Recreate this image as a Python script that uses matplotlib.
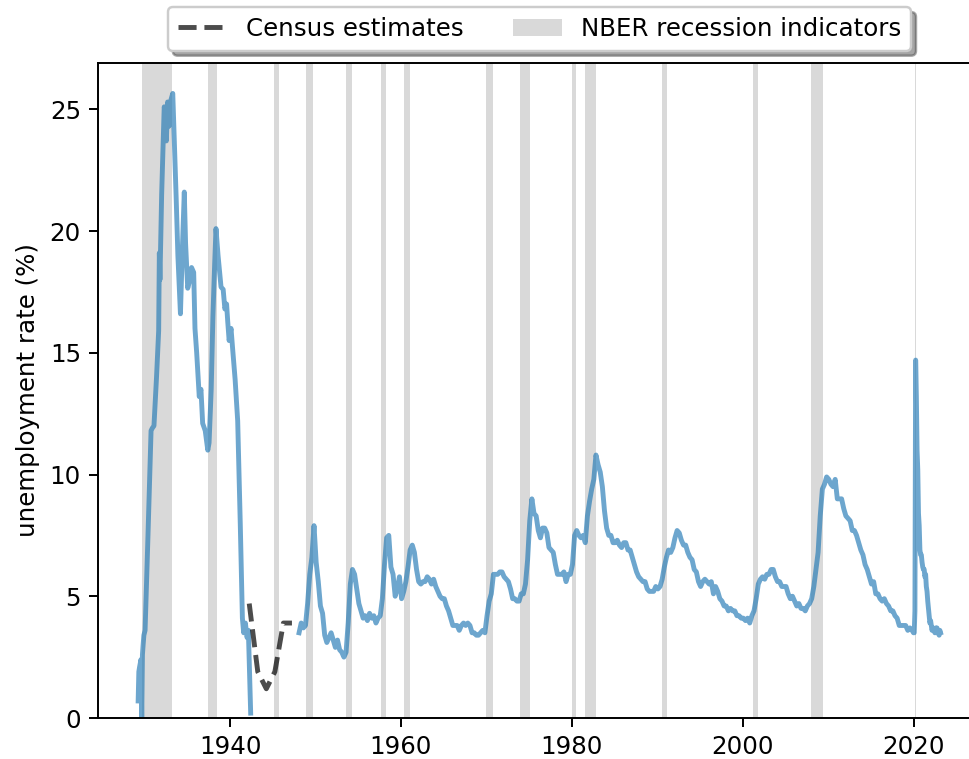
import numpy as np
import matplotlib
matplotlib.use("Agg")
import matplotlib.pyplot as plt

# monthly-ish readings, NBER series 1929-1942
prewar_t = [1929.25, 1929.33, 1929.42, 1929.58, 1929.67, 1929.75, 1929.83, 1929.92,
            1930.06, 1930.4, 1930.76, 1930.9, 1931.1, 1931.4, 1931.65, 1931.73,
            1931.8, 1932.0, 1932.3, 1932.45, 1932.55, 1932.7, 1932.85, 1933.0,
            1933.1, 1933.3, 1933.5, 1933.7, 1933.9, 1934.2, 1934.4, 1934.65,
            1934.8, 1935.05, 1935.3, 1935.5, 1935.75, 1935.9, 1936.1, 1936.4,
            1936.6, 1936.8, 1937.1, 1937.4, 1937.55, 1937.8, 1938.0, 1938.2,
            1938.36, 1938.6, 1938.95, 1939.2, 1939.4, 1939.6, 1939.73, 1939.9,
            1940.12, 1940.3, 1940.6, 1940.9, 1941.2, 1941.45, 1941.6, 1941.8,
            1942.0, 1942.15, 1942.42]
prewar_rate = [0.7, 1.9, 2.1, 2.4, 0.0, 2.6, 3.0, 3.4,
               3.6, 7.5, 11.8, 11.9, 12.0, 14.0, 15.9, 19.1,
               18.0, 21.5, 25.1, 24.9, 23.7, 25.3, 24.3, 25.0,
               25.4, 25.65, 23.5, 21.35, 19.0, 16.6, 19.0, 21.6,
               19.5, 17.65, 18.0, 18.5, 18.3, 16.0, 15.0, 13.2,
               13.5, 12.1, 11.8, 11.0, 11.3, 13.5, 16.5, 18.6,
               20.1, 19.0, 17.7, 17.6, 16.8, 17.0, 16.3, 15.5,
               16.0, 15.2, 13.9, 12.2, 8.0, 4.1, 3.5, 3.9,
               3.3, 3.6, 0.2]

# census annual estimates for the war years
census_years = [1942.25, 1943.25, 1944.25, 1945.25, 1946.25, 1947.25]
census_rate = [4.7, 1.9, 1.2, 1.9, 3.9, 3.9]

# quarterly unemployment rate 1948Q1 - 2019Q4
unrate_q = [
    3.5, 3.9, 3.7, 3.8,  4.7, 5.9, 6.6, 7.9,  6.4, 5.6, 4.6, 4.3,  3.4, 3.1, 3.3, 3.5,
    3.2, 2.9, 3.2, 2.8,  2.7, 2.5, 2.7, 3.9,  5.5, 6.1, 5.9, 5.3,  4.7, 4.4, 4.1, 4.2,
    4.0, 4.3, 4.1, 4.2,  3.9, 4.1, 4.2, 4.9,  6.3, 7.4, 7.5, 6.2,  5.9, 5.0, 5.3, 5.8,
    4.9, 5.2, 5.6, 6.2,  6.9, 7.1, 6.8, 6.1,  5.6, 5.5, 5.6, 5.6,  5.8, 5.7, 5.5, 5.7,
    5.4, 5.2, 5.0, 4.9,  4.9, 4.6, 4.4, 4.1,  3.8, 3.8, 3.8, 3.6,  3.8, 3.9, 3.8, 3.9,
    3.8, 3.5, 3.5, 3.4,  3.4, 3.5, 3.6, 3.5,  4.2, 4.8, 5.1, 5.9,  5.9, 5.9, 6.0, 6.0,
    5.8, 5.7, 5.6, 5.3,  4.9, 4.9, 4.8, 4.8,  5.1, 5.1, 5.5, 6.5,  8.1, 9.0, 8.4, 8.3,
    7.7, 7.4, 7.8, 7.8,  7.6, 7.0, 6.9, 6.8,  6.3, 5.9, 5.9, 5.9,  6.0, 5.6, 5.9, 5.9,
    6.3, 7.5, 7.7, 7.5,  7.4, 7.5, 7.2, 8.3,  8.9, 9.4, 9.8, 10.8, 10.4, 10.1, 9.5, 8.5,
    7.8, 7.5, 7.5, 7.2,  7.2, 7.3, 7.1, 7.0,  7.2, 7.2, 6.9, 6.9,  6.6, 6.3, 6.0, 5.8,
    5.7, 5.6, 5.6, 5.3,  5.2, 5.2, 5.2, 5.4,  5.3, 5.4, 5.7, 6.2,  6.6, 6.9, 6.8, 7.0,
    7.4, 7.7, 7.6, 7.3,  7.1, 7.1, 6.8, 6.6,  6.5, 6.1, 6.0, 5.6,  5.4, 5.6, 5.7, 5.6,
    5.5, 5.6, 5.1, 5.4,  5.2, 4.9, 4.8, 4.6,  4.6, 4.4, 4.5, 4.4,  4.4, 4.2, 4.2, 4.1,
    4.1, 4.0, 4.1, 3.9,  4.2, 4.4, 4.9, 5.5,  5.7, 5.8, 5.7, 5.9,  5.9, 6.1, 6.1, 5.8,
    5.6, 5.6, 5.4, 5.4,  5.4, 5.1, 4.9, 5.0,  4.8, 4.6, 4.7, 4.5,  4.5, 4.4, 4.6, 4.7,
    4.9, 5.4, 6.1, 6.8,  8.3, 9.4, 9.6, 9.9,  9.8, 9.6, 9.5, 9.8,  9.0, 9.0, 9.0, 8.6,
    8.3, 8.2, 8.1, 7.7,  7.7, 7.5, 7.2, 6.9,  6.7, 6.3, 6.1, 5.8,  5.5, 5.6, 5.1, 5.1,
    4.9, 4.8, 4.9, 4.7,  4.6, 4.4, 4.4, 4.2,  4.1, 3.8, 3.8, 3.8,  3.8, 3.6, 3.7, 3.6,
]

# monthly 2020-01 .. 2023-03
unrate_m = [3.5, 3.5, 4.4, 14.7, 13.2, 11.0, 10.2, 8.4, 7.9, 6.9, 6.7, 6.7,
            6.4, 6.2, 6.1, 6.1, 5.8, 5.9, 5.4, 5.2, 4.8, 4.5, 4.2, 3.9,
            4.0, 3.8, 3.6, 3.7, 3.6, 3.6, 3.5, 3.7, 3.5, 3.7, 3.6, 3.5,
            3.4, 3.6, 3.5]

# NBER recessions (peak, trough)
rec_start = [1929.67, 1937.42, 1945.17, 1948.92, 1953.58, 1957.67, 1960.33, 1970.0,
             1973.92, 1980.08, 1981.58, 1990.58, 2001.25, 2008.0, 2020.17]
rec_end = [1933.17, 1938.42, 1945.75, 1949.75, 1954.33, 1958.25, 1961.08, 1970.83,
           1975.17, 1980.5, 1982.83, 1991.17, 2001.83, 2009.42, 2020.33]

t_q = 1948 + np.arange(len(unrate_q)) * 0.25 + 1 / 12
t_m = 2020 + np.arange(len(unrate_m)) / 12
post_t = np.concatenate([t_q, t_m])
post_rate = np.concatenate([unrate_q, unrate_m])

dpi = 176
fig = plt.figure(figsize=(969 / dpi, 759 / dpi), dpi=dpi)
ax = fig.add_axes([98 / 969, 1 - 718 / 759, (981 - 98) / 969, (718 - 63) / 759])

blue = dict(color='C0', alpha=0.65, lw=2)
ax.plot(prewar_t, prewar_rate, **blue)
ax.plot(post_t, post_rate, **blue)
ax.plot(census_years, census_rate, color='k', alpha=0.7, ls='--', lw=2, label='Census estimates')

for i, (s, e) in enumerate(zip(rec_start, rec_end)):
    ax.axvspan(s, e, color='k', alpha=0.15, lw=0,
               label='NBER recession indicators' if i == 0 else None)

ax.set_xlim(1924.55, 2027.9)
ax.set_ylim(0, 26.9)
ax.set_xticks([1940, 1960, 1980, 2000, 2020])
ax.set_ylabel('unemployment rate (%)')
ax.legend(loc='lower center', bbox_to_anchor=(0.5, 1.0), ncol=2, shadow=True)

fig.savefig('out.png', dpi=dpi)
